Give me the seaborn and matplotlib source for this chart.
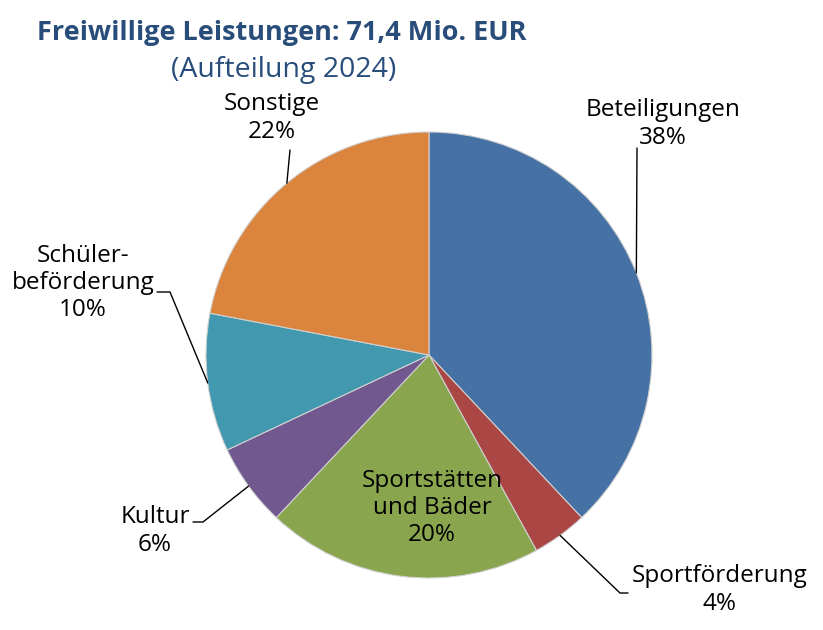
import numpy as np
import seaborn as sns
import matplotlib.pyplot as plt

categories = ["Beteiligungen", "Sportförderung", "Sportstätten\nund Bäder", "Kultur",
              "Schüler-\nbeförderung", "Sonstige"]
shares = [38, 4, 20, 6, 10, 22]
colors = ["#4671A5", "#AA4643", "#89A54E", "#71588F", "#4198AF", "#DB843D"]

sns.set_theme(style="white")
plt.rcParams['font.family'] = ['Open Sans', 'DejaVu Sans']

W, H = 823, 630
fig = plt.figure(figsize=(W / 100, H / 100), dpi=100)
ax = fig.add_axes([0, 0, 1, 1])

cx, cy, r = 429, H - 355, 223
wedges, _ = ax.pie(shares, colors=colors, startangle=90, counterclock=False,
                   center=(cx, cy), radius=r, frame=True,
                   wedgeprops=dict(edgecolor='#d0d0d0', linewidth=0.8))
ax.set_xlim(0, W)
ax.set_ylim(0, H)
ax.set_axis_off()

# label text position (pixel, from top) and leader-line path ending at the label
layout = [
    ((663, 124), [(637, 148)]),
    ((720, 590), [(620, 593), (628, 593)]),
    ((432, 508), None),
    ((155, 531), [(203, 522), (193, 522)]),
    ((83, 283), [(170, 292), (157, 292)]),
    ((272, 118), [(290, 150)]),
]

for w, cat, val, (pos, path) in zip(wedges, categories, shares, layout):
    ax.text(pos[0], H - pos[1], f"{cat}\n{val}%", ha='center', va='center',
            fontsize=17.5, color='black', linespacing=1.18)
    if path:
        mid = np.deg2rad((w.theta1 + w.theta2) / 2)
        xs = [cx + r * np.cos(mid)] + [p[0] for p in path]
        ys = [cy + r * np.sin(mid)] + [H - p[1] for p in path]
        ax.plot(xs, ys, color='black', linewidth=1)

ax.text(282, H - 33, "Freiwillige Leistungen: 71,4 Mio. EUR", ha='center', va='center',
        fontsize=19.5, fontweight='bold', color='#284D7A')
ax.text(284, H - 70, "(Aufteilung 2024)", ha='center', va='center',
        fontsize=20.5, color='#284D7A')

fig.savefig("out.png", dpi=100, facecolor='white')
